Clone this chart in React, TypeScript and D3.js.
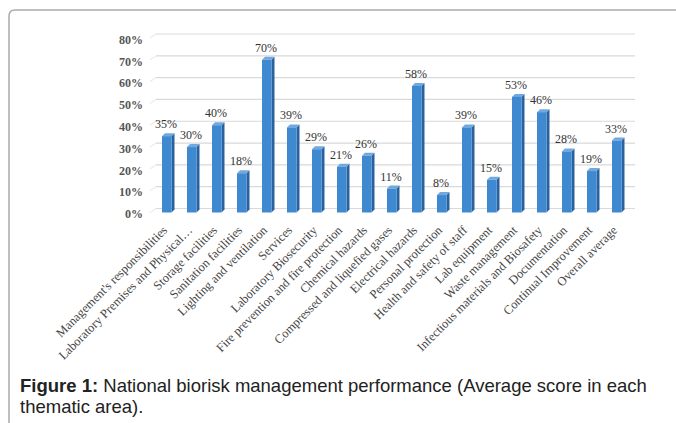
import React from "react";
import * as d3 from "d3";

const categories = [
  "Management's responsibilities",
  "Laboratory Premises and Physical…",
  "Storage facilities",
  "Sanitation facilities",
  "Lighting and ventilation",
  "Services",
  "Laboratory Biosecurity",
  "Fire prevention and fire protection",
  "Chemical hazards",
  "Compressed and liquefied gases",
  "Electrical hazards",
  "Personal protection",
  "Health and safety of staff",
  "Lab equipment",
  "Waste management",
  "Infectious materials and Biosafety",
  "Documentation",
  "Continual Improvement",
  "Overall average",
];
const values = [0.35, 0.3, 0.4, 0.18, 0.7, 0.39, 0.29, 0.21, 0.26, 0.11, 0.58, 0.08, 0.39, 0.15, 0.53, 0.46, 0.28, 0.19, 0.33];
const yTicks = [0, 0.1, 0.2, 0.3, 0.4, 0.5, 0.6, 0.7, 0.8];
const captionBold = "Figure 1:";
const captionLine1 = " National biorisk management performance (Average score in each";
const captionLine2 = "thematic area).";

export default function App() {
  const W = 676, H = 423;
  const x = d3.scaleBand<string>().domain(categories).range([155.5, 630.5]).padding(0);
  const y = d3.scaleLinear().domain([0, 0.8]).range([212.5, 38]);
  const pct = d3.format(".0%");
  const depthX = 3, depthY = 3;
  const backDx = 5, backDy = -4;
  const frontW = 9.5;

  return (
    <svg width={W} height={H} style={{ position: "absolute", left: 0, top: 0, background: "#fff" }}>
      <path d="M 9 423 L 9 16 Q 9 10 15 10 L 676 10" fill="none" stroke="#ababab" strokeWidth={1.5} />
      {/* back wall gridlines */}
      {yTicks.map((t) => (
        <g key={"g" + t}>
          <line x1={150} x2={150 + backDx + 1} y1={y(t)} y2={y(t) + backDy} stroke="#e6e6e6" strokeWidth={1} />
          <line x1={150 + backDx + 1} x2={635} y1={y(t) + backDy} y2={y(t) + backDy} stroke="#d9d9d9" strokeWidth={1.2} />
        </g>
      ))}
      {/* y tick labels */}
      {yTicks.map((t) => (
        <text key={"t" + t} x={143} y={y(t) + 1.5} dy="0.35em" textAnchor="end"
          fontFamily="'Liberation Serif', serif" fontSize={12} fontWeight="bold" fill="#555">
          {pct(t)}
        </text>
      ))}
      {/* bars */}
      {categories.map((c, i) => {
        const cx = (x(c) as number) + x.bandwidth() / 2;
        const x0 = cx - 6;
        const x1 = x0 + frontW;
        const yt = y(values[i]);
        const yb = y(0);
        return (
          <g key={c}>
            <path d={`M${x1},${yb} L${x1 + depthX},${yb - depthY} L${x1 + depthX},${yt - depthY} L${x1},${yt} Z`} fill="#2a62a0" />
            <path d={`M${x0},${yt} L${x0 + depthX},${yt - depthY} L${x1 + depthX},${yt - depthY} L${x1},${yt} Z`} fill="#6fa9e0" />
            <rect x={x0} y={yt} width={frontW} height={yb - yt} fill="#3f89d0" />
            <text x={cx - 2} y={yt - 8} textAnchor="middle" fontFamily="'Liberation Serif', serif" fontSize={12} fill="#333">
              {pct(values[i])}
            </text>
          </g>
        );
      })}
      {/* x labels */}
      {categories.map((c) => {
        const cx = (x(c) as number) + x.bandwidth() / 2;
        return (
          <text key={"x" + c} transform={`translate(${cx},${231}) rotate(-45)`} textAnchor="end"
            fontFamily="'Liberation Serif', serif" fontSize={12.5} fill="#444">
            {c}
          </text>
        );
      })}
      {/* caption */}
      <text x={20} y={392} fontFamily="'Liberation Sans', Arial, sans-serif" fontSize={18.5} fill="#222">
        <tspan fontWeight="bold">{captionBold}</tspan>
        <tspan>{captionLine1}</tspan>
      </text>
      <text x={20} y={413} fontFamily="'Liberation Sans', Arial, sans-serif" fontSize={18.5} fill="#222">
        {captionLine2}
      </text>
    </svg>
  );
}
